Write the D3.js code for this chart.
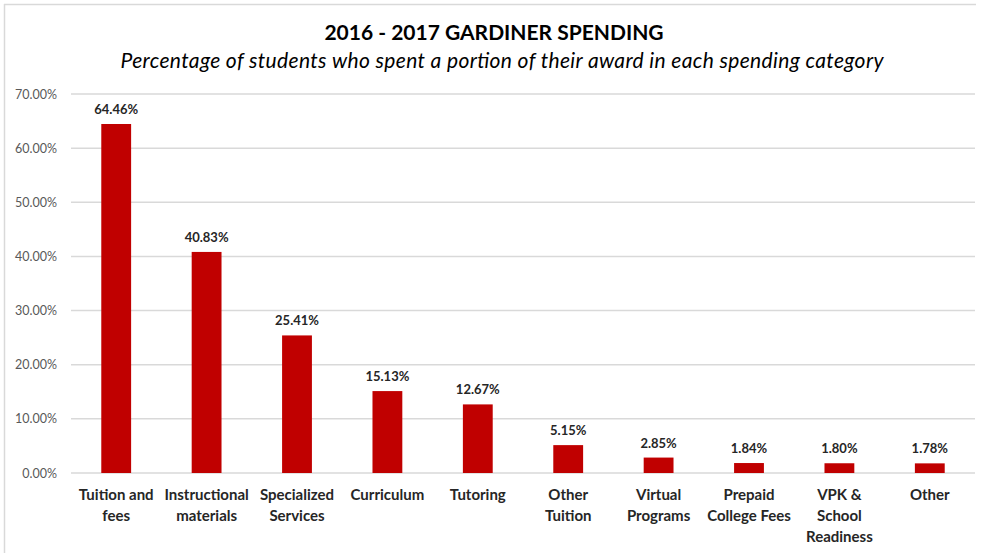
<!DOCTYPE html>
<html>
<head>
<meta charset="utf-8">
<script src="https://cdn.jsdelivr.net/npm/d3@7"></script>
<style>
  body { margin: 0; background: #fff; }
  svg { display: block; font-family: Lato, "Open Sans", sans-serif; }
</style>
</head>
<body>
<div id="chart"></div>
<script>
// Chart data
var categories = [
  ["Tuition and", "fees"],
  ["Instructional", "materials"],
  ["Specialized", "Services"],
  ["Curriculum"],
  ["Tutoring"],
  ["Other", "Tuition"],
  ["Virtual", "Programs"],
  ["Prepaid", "College Fees"],
  ["VPK &", "School", "Readiness"],
  ["Other"]
];
var values = [64.46, 40.83, 25.41, 15.13, 12.67, 5.15, 2.85, 1.84, 1.80, 1.78];
var yTicks = [0, 10, 20, 30, 40, 50, 60, 70];

function init() {
    var w = 987;
    var h = 553;
    var left = 71, right = 975, top = 94, bottom = 473;

    var svg = d3.select("#chart")
                .append("svg")
                .attr("width", w)
                .attr("height", h);

    // chart frame (top and left edges are all that show)
    svg.append("line").attr("x1", 4).attr("x2", 976).attr("y1", 4.5).attr("y2", 4.5)
       .attr("stroke", "#d9d9d9").attr("stroke-width", 1.5);
    svg.append("line").attr("x1", 4.5).attr("x2", 4.5).attr("y1", 4).attr("y2", h)
       .attr("stroke", "#d9d9d9").attr("stroke-width", 1.5);

    // Titles
    svg.append("text")
       .attr("x", 494).attr("y", 40)
       .attr("text-anchor", "middle")
       .attr("font-size", "21px")
       .attr("font-weight", "bold")
       .attr("fill", "#000")
       .text("2016 - 2017 GARDINER SPENDING");
    svg.append("text")
       .attr("x", 502).attr("y", 68)
       .attr("text-anchor", "middle")
       .attr("font-size", "21px")
       .attr("font-style", "italic")
       .attr("fill", "#000")
       .attr("textLength", 763)
       .attr("lengthAdjust", "spacing")
       .text("Percentage of students who spent a portion of their award in each spending category");

    var x = d3.scaleBand()
              .domain(d3.range(values.length))
              .range([left, right])
              .paddingInner(0.67)
              .paddingOuter(0.335);

    var y = d3.scaleLinear()
              .domain([0, 70])
              .range([bottom, top]);

    // Gridlines
    svg.append("g")
       .selectAll("line")
       .data(yTicks)
       .enter()
       .append("line")
       .attr("x1", left).attr("x2", right)
       .attr("y1", function(d) { return y(d); })
       .attr("y2", function(d) { return y(d); })
       .attr("stroke", "#d9d9d9")
       .attr("stroke-width", 1.5);

    // Y axis labels
    var yAxis = d3.axisLeft(y)
                  .tickValues(yTicks)
                  .tickSize(0)
                  .tickPadding(14)
                  .tickFormat(function(d) { return d.toFixed(2) + "%"; });
    var ya = svg.append("g")
                .attr("transform", "translate(" + left + ",0)")
                .call(yAxis);
    ya.select(".domain").remove();
    ya.selectAll("text")
      .attr("font-size", "12.5px")
      .attr("fill", "#595959")
      .attr("font-family", "Lato, sans-serif");

    // Bars
    svg.append("g")
       .selectAll("rect")
       .data(values)
       .enter()
       .append("rect")
       .attr("x", function(d, i) { return x(i); })
       .attr("y", function(d) { return y(d); })
       .attr("width", x.bandwidth())
       .attr("height", function(d) { return y(0) - y(d); })
       .attr("fill", "#c00000");

    // Value labels
    svg.append("g")
       .selectAll("text")
       .data(values)
       .enter()
       .append("text")
       .attr("x", function(d, i) { return x(i) + x.bandwidth() / 2; })
       .attr("y", function(d) { return y(d) - 10; })
       .attr("text-anchor", "middle")
       .attr("font-size", "13px")
       .attr("font-weight", "bold")
       .attr("fill", "#262626")
       .text(function(d) { return d.toFixed(2) + "%"; });

    // Category labels
    var cats = svg.append("g")
                  .selectAll("text")
                  .data(categories)
                  .enter()
                  .append("text")
                  .attr("x", function(d, i) { return x(i) + x.bandwidth() / 2; })
                  .attr("y", 500)
                  .attr("text-anchor", "middle")
                  .attr("font-size", "15px")
                  .attr("font-weight", "bold")
                  .attr("fill", "#262626");
    cats.selectAll("tspan")
        .data(function(d) { return d; })
        .enter()
        .append("tspan")
        .attr("x", function() { return d3.select(this.parentNode).attr("x"); })
        .attr("dy", function(d, j) { return j === 0 ? 0 : 21; })
        .text(function(d) { return d; });
}

window.onload = init;
</script>
</body>
</html>
